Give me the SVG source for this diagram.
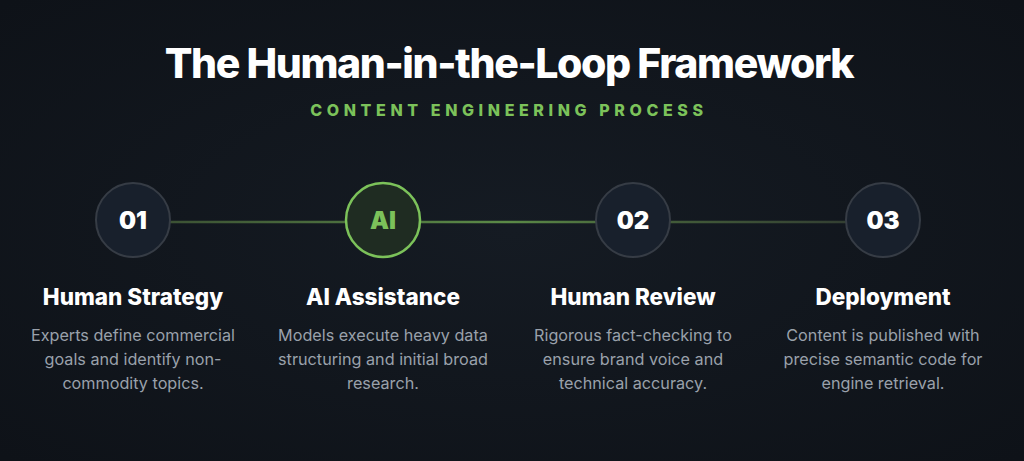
<svg xmlns="http://www.w3.org/2000/svg" width="1024" height="461" viewBox="0 0 1024 461">
  <defs>
    <radialGradient id="bg" cx="0.5" cy="0.5" r="0.7">
      <stop offset="0" stop-color="#151b23"/>
      <stop offset="1" stop-color="#0e1218"/>
    </radialGradient>
    <linearGradient id="line" x1="170" y1="0" x2="846" y2="0" gradientUnits="userSpaceOnUse">
      <stop offset="0" stop-color="#3c5234"/>
      <stop offset="0.3" stop-color="#4f7440"/>
      <stop offset="0.5" stop-color="#5b8a47"/>
      <stop offset="0.7" stop-color="#45603a"/>
      <stop offset="1" stop-color="#333f32"/>
    </linearGradient>
    <style>
      .title { font-family: Inter, "Liberation Sans", sans-serif; font-weight: 800; font-size: 41px; fill: #ffffff; letter-spacing: -1.4px; }
      .sub { font-family: Inter, "Liberation Sans", sans-serif; font-weight: 800; font-size: 16px; fill: #7cc25a; letter-spacing: 4.6px; }
      .circ { fill: #18202c; stroke: #363c45; stroke-width: 2; }
      .circAI { fill: #1f2c22; stroke: #7cc25a; stroke-width: 2.5; }
      .num { font-family: Inter, "Liberation Sans", sans-serif; font-weight: 900; font-size: 24px; fill: #ffffff; text-anchor: middle; }
      .numAI { font-family: Inter, "Liberation Sans", sans-serif; font-weight: 900; font-size: 24px; fill: #7cc25a; text-anchor: middle; }
      .head { font-family: Inter, "Liberation Sans", sans-serif; font-weight: 800; font-size: 22.5px; fill: #ffffff; text-anchor: middle; }
      .body { font-family: Inter, "Liberation Sans", sans-serif; font-weight: 400; font-size: 16.2px; fill: #9aa1ab; text-anchor: middle; }
    </style>
  </defs>
  <rect width="1024" height="461" fill="url(#bg)"/>
  <text class="title" x="509" y="78" text-anchor="middle">The Human-in-the-Loop Framework</text>
  <text class="sub" x="509" y="116" text-anchor="middle">CONTENT ENGINEERING PROCESS</text>

  <g id="connectors">
    <line x1="170" y1="222" x2="846" y2="222" stroke="url(#line)" stroke-width="2.5"/>
  </g>

  <g id="step1">
    <circle class="circ" cx="133" cy="220" r="37"/>
    <text class="num" x="133" y="229">01</text>
    <text class="head" x="133" y="305">Human Strategy</text>
    <text class="body" x="133" y="341">Experts define commercial</text>
    <text class="body" x="133" y="365">goals and identify non-</text>
    <text class="body" x="133" y="389">commodity topics.</text>
  </g>
  <g id="stepAI">
    <circle class="circAI" cx="383" cy="220" r="37"/>
    <text class="numAI" x="383" y="229">AI</text>
    <text class="head" x="383" y="305">AI Assistance</text>
    <text class="body" x="383" y="341">Models execute heavy data</text>
    <text class="body" x="383" y="365">structuring and initial broad</text>
    <text class="body" x="383" y="389">research.</text>
  </g>
  <g id="step2">
    <circle class="circ" cx="633" cy="220" r="37"/>
    <text class="num" x="633" y="229">02</text>
    <text class="head" x="633" y="305">Human Review</text>
    <text class="body" x="633" y="341">Rigorous fact-checking to</text>
    <text class="body" x="633" y="365">ensure brand voice and</text>
    <text class="body" x="633" y="389">technical accuracy.</text>
  </g>
  <g id="step3">
    <circle class="circ" cx="883" cy="220" r="37"/>
    <text class="num" x="883" y="229">03</text>
    <text class="head" x="883" y="305">Deployment</text>
    <text class="body" x="883" y="341">Content is published with</text>
    <text class="body" x="883" y="365">precise semantic code for</text>
    <text class="body" x="883" y="389">engine retrieval.</text>
  </g>
</svg>
